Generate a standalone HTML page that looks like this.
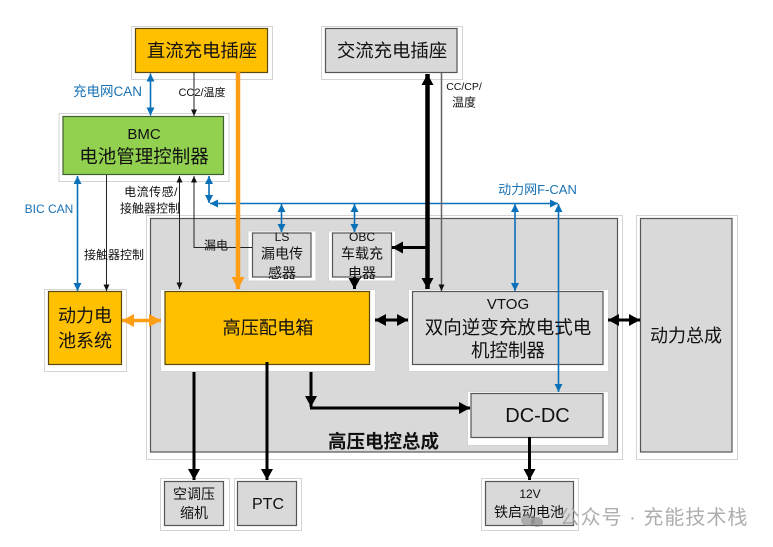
<!DOCTYPE html>
<html><head><meta charset="utf-8">
<style>
html,body{margin:0;padding:0;background:#fff}
svg{display:block}
text{font-family:"Liberation Sans","Noto Sans CJK SC",sans-serif;text-anchor:middle;fill:#111}
.h{fill:#fff;stroke:#d4d4d4;stroke-width:1}
.g{fill:#d9d9d9;stroke:#555;stroke-width:1.2}
.y{fill:#ffc000;stroke:#5a4a10;stroke-width:1.2}
.v{fill:#92d050;stroke:#3f5f30;stroke-width:1.2}
.b{stroke:#0a70b8;stroke-width:1.6;fill:none}
.k{stroke:#222;stroke-width:1;fill:none}
.t{stroke:#000;stroke-width:3;fill:none}
.c{fill:#1a72b5}
.s{font-size:12px}
</style></head>
<body>
<svg width="773" height="547" viewBox="0 0 773 547" xmlns="http://www.w3.org/2000/svg">
<defs>
<marker id="ab" markerUnits="userSpaceOnUse" markerWidth="10" markerHeight="10" refX="8" refY="4" orient="auto-start-reverse"><path d="M0,0L8,4L0,8z" fill="#0a70b8"/></marker>
<marker id="ak" markerUnits="userSpaceOnUse" markerWidth="8" markerHeight="8" refX="6.5" refY="3" orient="auto-start-reverse"><path d="M0,0L6.5,3L0,6z" fill="#111"/></marker>
<marker id="at" markerUnits="userSpaceOnUse" markerWidth="14" markerHeight="14" refX="11" refY="6" orient="auto-start-reverse"><path d="M0,0L11,6L0,12z" fill="#000"/></marker>
<marker id="ao" markerUnits="userSpaceOnUse" markerWidth="15" markerHeight="15" refX="12" refY="6.5" orient="auto-start-reverse"><path d="M0,0L12,6.5L0,13z" fill="#ff9d14"/></marker>
</defs>

<!-- halos and boxes -->
<rect class="h" x="131.5" y="26.5" width="141" height="53"/>
<rect class="y" x="135.5" y="28.5" width="132" height="44"/>
<rect class="h" x="321.5" y="26.5" width="141" height="53"/>
<rect class="g" x="325.5" y="28.5" width="131.500" height="44"/>
<rect class="h" x="59" y="113.500" width="170" height="68"/>
<rect class="v" x="63" y="116.500" width="160.500" height="58"/>
<rect class="h" x="146.500" y="215.500" width="476" height="244"/>
<rect class="g" x="150.500" y="218.500" width="467" height="233.500"/>
<rect class="h" x="636.500" y="215.500" width="101" height="244"/>
<rect fill="#d9d9d9" stroke="#555" stroke-width="1.200" x="640.500" y="218.500" width="91.500" height="233.500"/>
<rect class="h" x="248" y="231" width="68" height="50" fill="#fff"/>
<rect class="g" x="252.500" y="233" width="58.500" height="44"/>
<rect class="h" x="328.500" y="231" width="67" height="50"/>
<rect class="g" x="332.500" y="233" width="59" height="44"/>
<rect class="h" x="44.500" y="289.500" width="82" height="82"/>
<rect class="y" x="48.500" y="291.500" width="73" height="73"/>
<rect class="h" x="160.500" y="289.500" width="215" height="82"/>
<rect class="y" x="165" y="291.500" width="204.500" height="73"/>
<rect class="h" x="408.500" y="289.500" width="200" height="82"/>
<rect class="g" x="412.500" y="291.500" width="190.500" height="73"/>
<rect class="h" x="467.500" y="391.500" width="141" height="54"/>
<rect class="g" x="471" y="393.500" width="132" height="44"/>
<rect class="h" x="160.500" y="478.500" width="69" height="52"/>
<rect class="g" x="164.500" y="481.500" width="59" height="44"/>
<rect class="h" x="234.500" y="478.500" width="67" height="52"/>
<rect class="g" x="237.500" y="481.500" width="59" height="44"/>
<rect class="h" x="481.500" y="478.500" width="97" height="52"/>
<rect class="g" x="485.500" y="481.500" width="88" height="44"/>

<!-- blue connectors -->
<line class="b" x1="150.500" y1="73.500" x2="150.500" y2="115.500" marker-start="url(#ab)" marker-end="url(#ab)"/>
<line class="b" x1="77.500" y1="176" x2="77.500" y2="291" marker-start="url(#ab)" marker-end="url(#ab)"/>
<line class="b" x1="209" y1="176" x2="209" y2="203" marker-start="url(#ab)" marker-end="url(#ab)"/>
<line class="b" x1="210" y1="203.500" x2="558" y2="203.500" marker-start="url(#ab)" marker-end="url(#ab)"/>
<line class="b" x1="281.500" y1="204" x2="281.500" y2="232" marker-start="url(#ab)" marker-end="url(#ab)"/>
<line class="b" x1="354.500" y1="204" x2="354.500" y2="232" marker-start="url(#ab)" marker-end="url(#ab)"/>
<line class="b" x1="515" y1="204" x2="515" y2="291" marker-start="url(#ab)" marker-end="url(#ab)"/>
<line class="b" x1="558.500" y1="204" x2="558.500" y2="392" marker-start="url(#ab)" marker-end="url(#ab)"/>

<!-- thin black -->
<line class="k" x1="194" y1="72" x2="194" y2="116" marker-end="url(#ak)"/>
<line class="k" x1="106.500" y1="175" x2="106.500" y2="291" marker-end="url(#ak)"/>
<line class="k" x1="179.500" y1="176" x2="179.500" y2="289" marker-start="url(#ak)" marker-end="url(#ak)"/>
<path class="k" d="M252,247.500H194V176" marker-end="url(#ak)"/>
<line x1="441.500" y1="73" x2="441.500" y2="291" stroke="#666" stroke-width="1.500" marker-end="url(#ak)"/>

<!-- orange -->
<line x1="238" y1="72" x2="238" y2="289" stroke="#ff9d14" stroke-width="4.500" marker-end="url(#ao)"/>
<line x1="122" y1="320.500" x2="161" y2="320.500" stroke="#ff9d14" stroke-width="3.500" marker-start="url(#ao)" marker-end="url(#ao)"/>

<!-- thick black -->
<line x1="427.500" y1="74" x2="427.500" y2="289" stroke="#000" stroke-width="4.500" marker-start="url(#at)" marker-end="url(#at)"/>
<line class="t" x1="427" y1="247.500" x2="392" y2="247.500" marker-end="url(#at)"/>
<line class="t" x1="354.500" y1="277" x2="354.500" y2="289" marker-end="url(#at)"/>
<line class="t" x1="375" y1="320" x2="408" y2="320" marker-start="url(#at)" marker-end="url(#at)"/>
<line class="t" x1="608" y1="320" x2="640" y2="320" marker-start="url(#at)" marker-end="url(#at)"/>
<line class="t" x1="194" y1="372" x2="194" y2="480" marker-end="url(#at)"/>
<line class="t" x1="267" y1="362" x2="267" y2="480" marker-end="url(#at)"/>
<line class="t" x1="311" y1="372" x2="311" y2="407" marker-end="url(#at)"/>
<line class="t" x1="310" y1="408" x2="470" y2="408" marker-end="url(#at)"/>
<line class="t" x1="529.500" y1="437" x2="529.500" y2="480" marker-end="url(#at)"/>

<!-- box text -->
<text x="202" y="57" font-size="18.400">直流充电插座</text>
<text x="392" y="57" font-size="18.400">交流充电插座</text>
<text x="144" y="139" font-size="15">BMC</text>
<text x="144" y="163" font-size="18.500">电池管理控制器</text>
<text x="282" y="241" font-size="12">LS</text>
<text x="282" y="258.500" font-size="14">漏电传</text>
<text x="282" y="278" font-size="14">感器</text>
<text x="362" y="241" font-size="12">OBC</text>
<text x="362" y="258.500" font-size="14">车载充</text>
<text x="362" y="278" font-size="14">电器</text>
<text x="85" y="322" font-size="18">动力电</text>
<text x="85" y="347" font-size="18">池系统</text>
<text x="268" y="334" font-size="18.200">高压配电箱</text>
<text x="508" y="309" font-size="15">VTOG</text>
<text x="508" y="334" font-size="18.500">双向逆变充放电式电</text>
<text x="508" y="357" font-size="18.500">机控制器</text>
<text x="537.500" y="422" font-size="20">DC-DC</text>
<text x="686" y="342" font-size="18">动力总成</text>
<text x="194" y="499" font-size="14">空调压</text>
<text x="194" y="518" font-size="14">缩机</text>
<text x="268" y="509" font-size="16">PTC</text>
<text x="530" y="498" font-size="12">12V</text>
<text x="529" y="517" font-size="14">铁启动电池</text>
<text x="383.500" y="448" font-size="18.500" font-weight="bold">高压电控总成</text>

<!-- labels -->
<text class="c" x="107.500" y="96" font-size="13.500">充电网CAN</text>
<text class="c" x="49" y="213" font-size="12">BIC CAN</text>
<text class="c" x="537.500" y="194" font-size="13">动力网F-CAN</text>
<text x="202" y="96" font-size="11">CC2/温度</text>
<text class="s" x="151" y="196" letter-spacing=".5">电流传感/</text>
<text class="s" x="150" y="212.500">接触器控制</text>
<text class="s" x="216" y="249.500">漏电</text>
<text class="s" x="114" y="259">接触器控制</text>
<text x="464" y="90" font-size="10.500">CC/CP/</text>
<text class="s" x="464" y="106.500">温度</text>

<!-- watermark -->
<ellipse cx="528" cy="520" rx="7" ry="6" fill="#888" opacity=".55"/>
<ellipse cx="537" cy="522" rx="6" ry="5" fill="#777" opacity=".55"/>
<text x="654" y="524" font-size="20" letter-spacing="1" style="fill:#a6a6a6" opacity=".9">公众号 · 充能技术栈</text>
</svg>
</body></html>
